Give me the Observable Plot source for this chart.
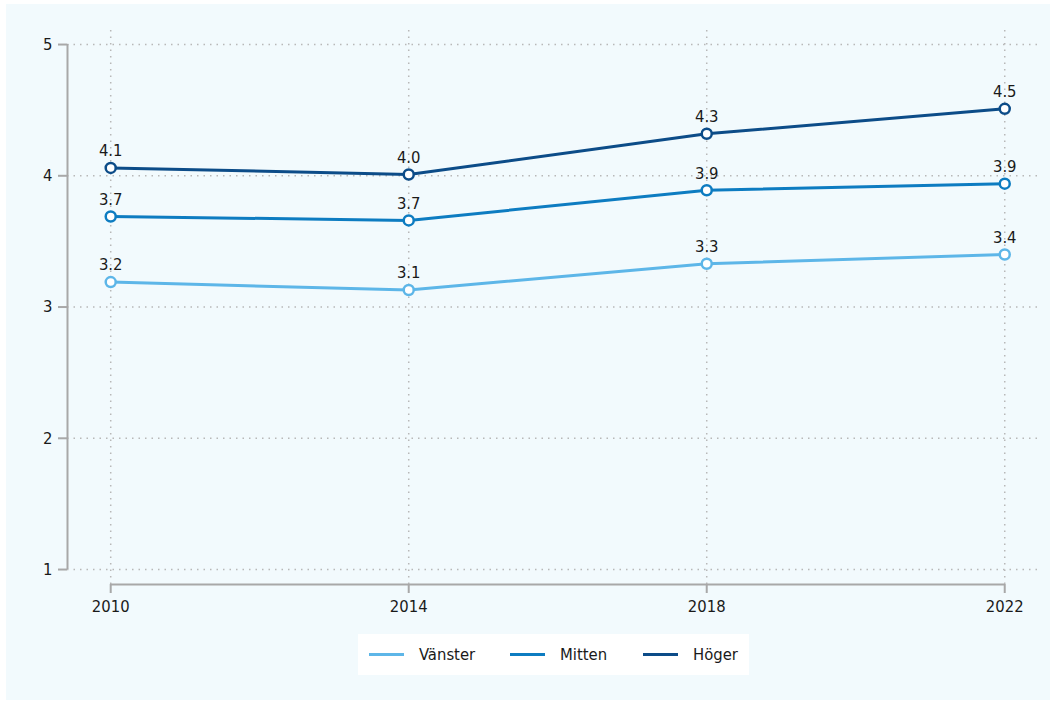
<!DOCTYPE html>
<html>
<head>
<meta charset="utf-8">
<script src="https://cdn.jsdelivr.net/npm/d3@7"></script>
<script src="https://cdn.jsdelivr.net/npm/@observablehq/plot@0.6"></script>
<style>
  html, body { margin: 0; padding: 0; background: #ffffff; }
  #panel { position: absolute; left: 6px; top: 4px; width: 1044px; height: 696px; background: #f2fafd; }
  #chart { position: absolute; left: 0; top: 0; }
  #legend { position: absolute; left: 358px; top: 634px; width: 391px; height: 41px; background: #ffffff;
    font-family: "DejaVu Sans Condensed", "Liberation Sans Narrow", "Open Sans", sans-serif; font-stretch: condensed; font-size: 16.5px; color: #1a1a1a; }
  .item { position: absolute; top: 0; height: 41px; display: flex; align-items: center; }
  .swatch { display: inline-block; width: 35px; height: 3px; margin-right: 15px; }
  svg text { font-family: "DejaVu Sans Condensed", "Liberation Sans Narrow", "Open Sans", sans-serif; font-stretch: condensed; }
</style>
</head>
<body>
<div id="panel"></div>
<div id="chart"></div>
<div id="legend"></div>
<script>
const years = [2010, 2014, 2018, 2022];
const seriesNames = ["Vänster", "Mitten", "Höger"];
const vanster = [3.19, 3.13, 3.33, 3.40];
const mitten = [3.69, 3.66, 3.89, 3.94];
const hoger = [4.06, 4.01, 4.32, 4.51];
const colors = ["#5db6e8", "#0d7cc1", "#0c4c88"];
const yTicks = [1, 2, 3, 4, 5];

const data = [];
[vanster, mitten, hoger].forEach((vals, s) => {
  vals.forEach((v, i) => data.push({ year: years[i], value: v, series: seriesNames[s] }));
});

const xPad = [0.58, 0.48];
const yPad = [0.114, 0.107];
const xDomain = [years[0] - xPad[0], years[years.length - 1] + xPad[1]];
const yDomain = [yTicks[0] - yPad[0], yTicks[yTicks.length - 1] + yPad[1]];
const fs = 16.5;

const plot = Plot.plot({
  width: 1056,
  height: 625,
  marginLeft: 67,
  marginRight: 16,
  marginTop: 30,
  marginBottom: 41,
  style: { background: "transparent", fontSize: fs + "px", color: "#1a1a1a" },
  x: { domain: xDomain, label: null },
  y: { domain: yDomain, label: null },
  color: { domain: seriesNames, range: colors },
  marks: [
    Plot.gridX(years, { stroke: "#b8b8b8", strokeOpacity: 1, strokeDasharray: "1.5,5", strokeWidth: 1.5 }),
    Plot.gridY(yTicks, { stroke: "#b8b8b8", strokeOpacity: 1, strokeDasharray: "1.5,5", strokeWidth: 1.5 }),
    Plot.axisX(years, { stroke: "#a8a8a8", strokeWidth: 2, tickSize: 9, tickPadding: 7, tickFormat: d => String(d), fill: "#1a1a1a", fontSize: fs, label: null }),
    Plot.axisY(yTicks, { stroke: "#a8a8a8", strokeWidth: 2, tickSize: 9, tickPadding: 6, tickFormat: d => String(d), fill: "#1a1a1a", fontSize: fs, label: null }),
    Plot.ruleX([xDomain[0]], { y1: yTicks[0], y2: yTicks[yTicks.length - 1], stroke: "#a8a8a8", strokeWidth: 2 }),
    Plot.ruleY([yDomain[0]], { x1: years[0], x2: years[years.length - 1], stroke: "#a8a8a8", strokeWidth: 2 }),
    Plot.line(data, { x: "year", y: "value", z: "series", stroke: "series", strokeWidth: 3 }),
    Plot.dot(data, { x: "year", y: "value", stroke: "series", fill: "white", r: 5, strokeWidth: 2.5 }),
    Plot.text(data, { x: "year", y: "value", text: d => d.value.toFixed(1), dy: -17, fill: "#1a1a1a", fontSize: fs, stroke: null })
  ]
});
document.getElementById("chart").appendChild(plot);

const legend = document.getElementById("legend");
const lefts = [11, 152, 285];
seriesNames.forEach((name, i) => {
  const item = document.createElement("div");
  item.className = "item";
  item.style.left = lefts[i] + "px";
  const sw = document.createElement("span");
  sw.className = "swatch";
  sw.style.background = colors[i];
  item.appendChild(sw);
  item.appendChild(document.createTextNode(name));
  legend.appendChild(item);
});
</script>
</body>
</html>
